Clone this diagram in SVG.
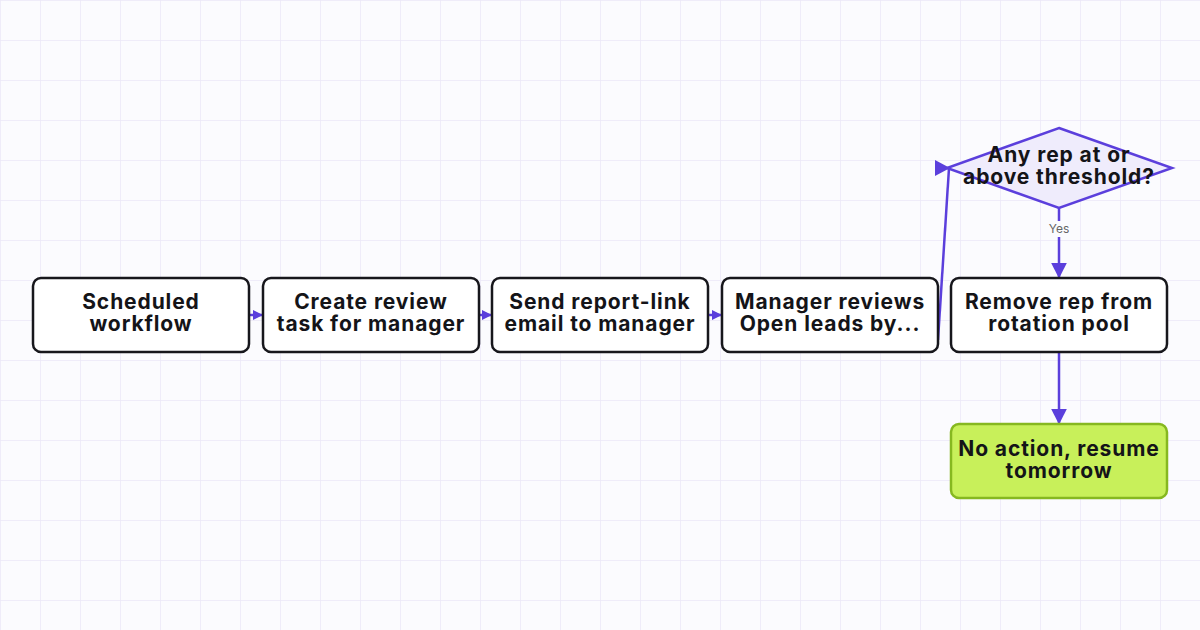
<svg xmlns="http://www.w3.org/2000/svg" width="1200" height="630" viewBox="0 0 1200 630">
<defs>
<pattern id="g" width="40" height="40" patternUnits="userSpaceOnUse"><path d="M0 0H40M0 0V40" fill="none" stroke="#ebe8f7" stroke-width="1.5"/></pattern>
<marker id="a" viewBox="0 0 10 10" refX="9" refY="5" markerWidth="10" markerHeight="10" markerUnits="userSpaceOnUse" orient="auto"><path d="M0 0L10 5L0 10Z" fill="#5b3fdc"/></marker>
<marker id="b" viewBox="0 0 10 10" refX="9" refY="5" markerWidth="16" markerHeight="16" markerUnits="userSpaceOnUse" orient="auto"><path d="M0 0L10 5L0 10Z" fill="#5b3fdc"/></marker>
</defs>
<style>
.n{fill:#fff;stroke:#17171c;stroke-width:2.5}
.t{font-family:Inter,"Liberation Sans",sans-serif;font-weight:700;font-size:21px;letter-spacing:0.9px;fill:#141418;text-anchor:middle}
.c{fill:none;stroke:#5b3fdc;stroke-width:2.5}
</style>
<rect width="1200" height="630" fill="#fbfbfe"/>
<rect width="1200" height="630" fill="url(#g)"/>
<g id="connectors">
<path class="c" d="M249 315H262" marker-end="url(#a)"/>
<path class="c" d="M479 315H491" marker-end="url(#a)"/>
<path class="c" d="M708 315H721" marker-end="url(#a)"/>
<path class="c" d="M938 340L949 168"/>
<path d="M935 160L950 168L935 176Z" fill="#5b3fdc"/>
<path class="c" d="M1059 208V277" marker-end="url(#b)"/>
<rect x="1044" y="221" width="30" height="16" fill="#fbfbfe"/>
<text x="1059" y="233" font-family="Inter,'Liberation Sans',sans-serif" font-size="12" fill="#666" text-anchor="middle">Yes</text>
<path class="c" d="M1059 352V423" marker-end="url(#b)"/>
</g>
<g id="n1"><rect class="n" x="33" y="278" width="216" height="74" rx="8"/><text class="t" x="141" y="309">Scheduled</text><text class="t" x="141" y="331">workflow</text></g>
<g id="n2"><rect class="n" x="263" y="278" width="216" height="74" rx="8"/><text class="t" x="371" y="309">Create review</text><text class="t" x="371" y="331">task for manager</text></g>
<g id="n3"><rect class="n" x="492" y="278" width="216" height="74" rx="8"/><text class="t" x="600" y="309">Send report-link</text><text class="t" x="600" y="331">email to manager</text></g>
<g id="n4"><rect class="n" x="722" y="278" width="216" height="74" rx="8"/><text class="t" x="830" y="309">Manager reviews</text><text class="t" x="830" y="331">Open leads by...</text></g>
<g id="d"><path d="M1059 128L1172 168L1059 208L947 168Z" fill="#efecfc" stroke="#5b3fdc" stroke-width="2.5"/><text class="t" x="1059" y="162">Any rep at or</text><text class="t" x="1059" y="184">above threshold?</text></g>
<g id="n5"><rect class="n" x="951" y="278" width="216" height="74" rx="8"/><text class="t" x="1059" y="309">Remove rep from</text><text class="t" x="1059" y="331">rotation pool</text></g>
<g id="n6"><rect x="951" y="424" width="216" height="74" rx="8" fill="#c8f05a" stroke="#86b820" stroke-width="2.5"/><text class="t" x="1059" y="456">No action, resume</text><text class="t" x="1059" y="478">tomorrow</text></g>
</svg>
